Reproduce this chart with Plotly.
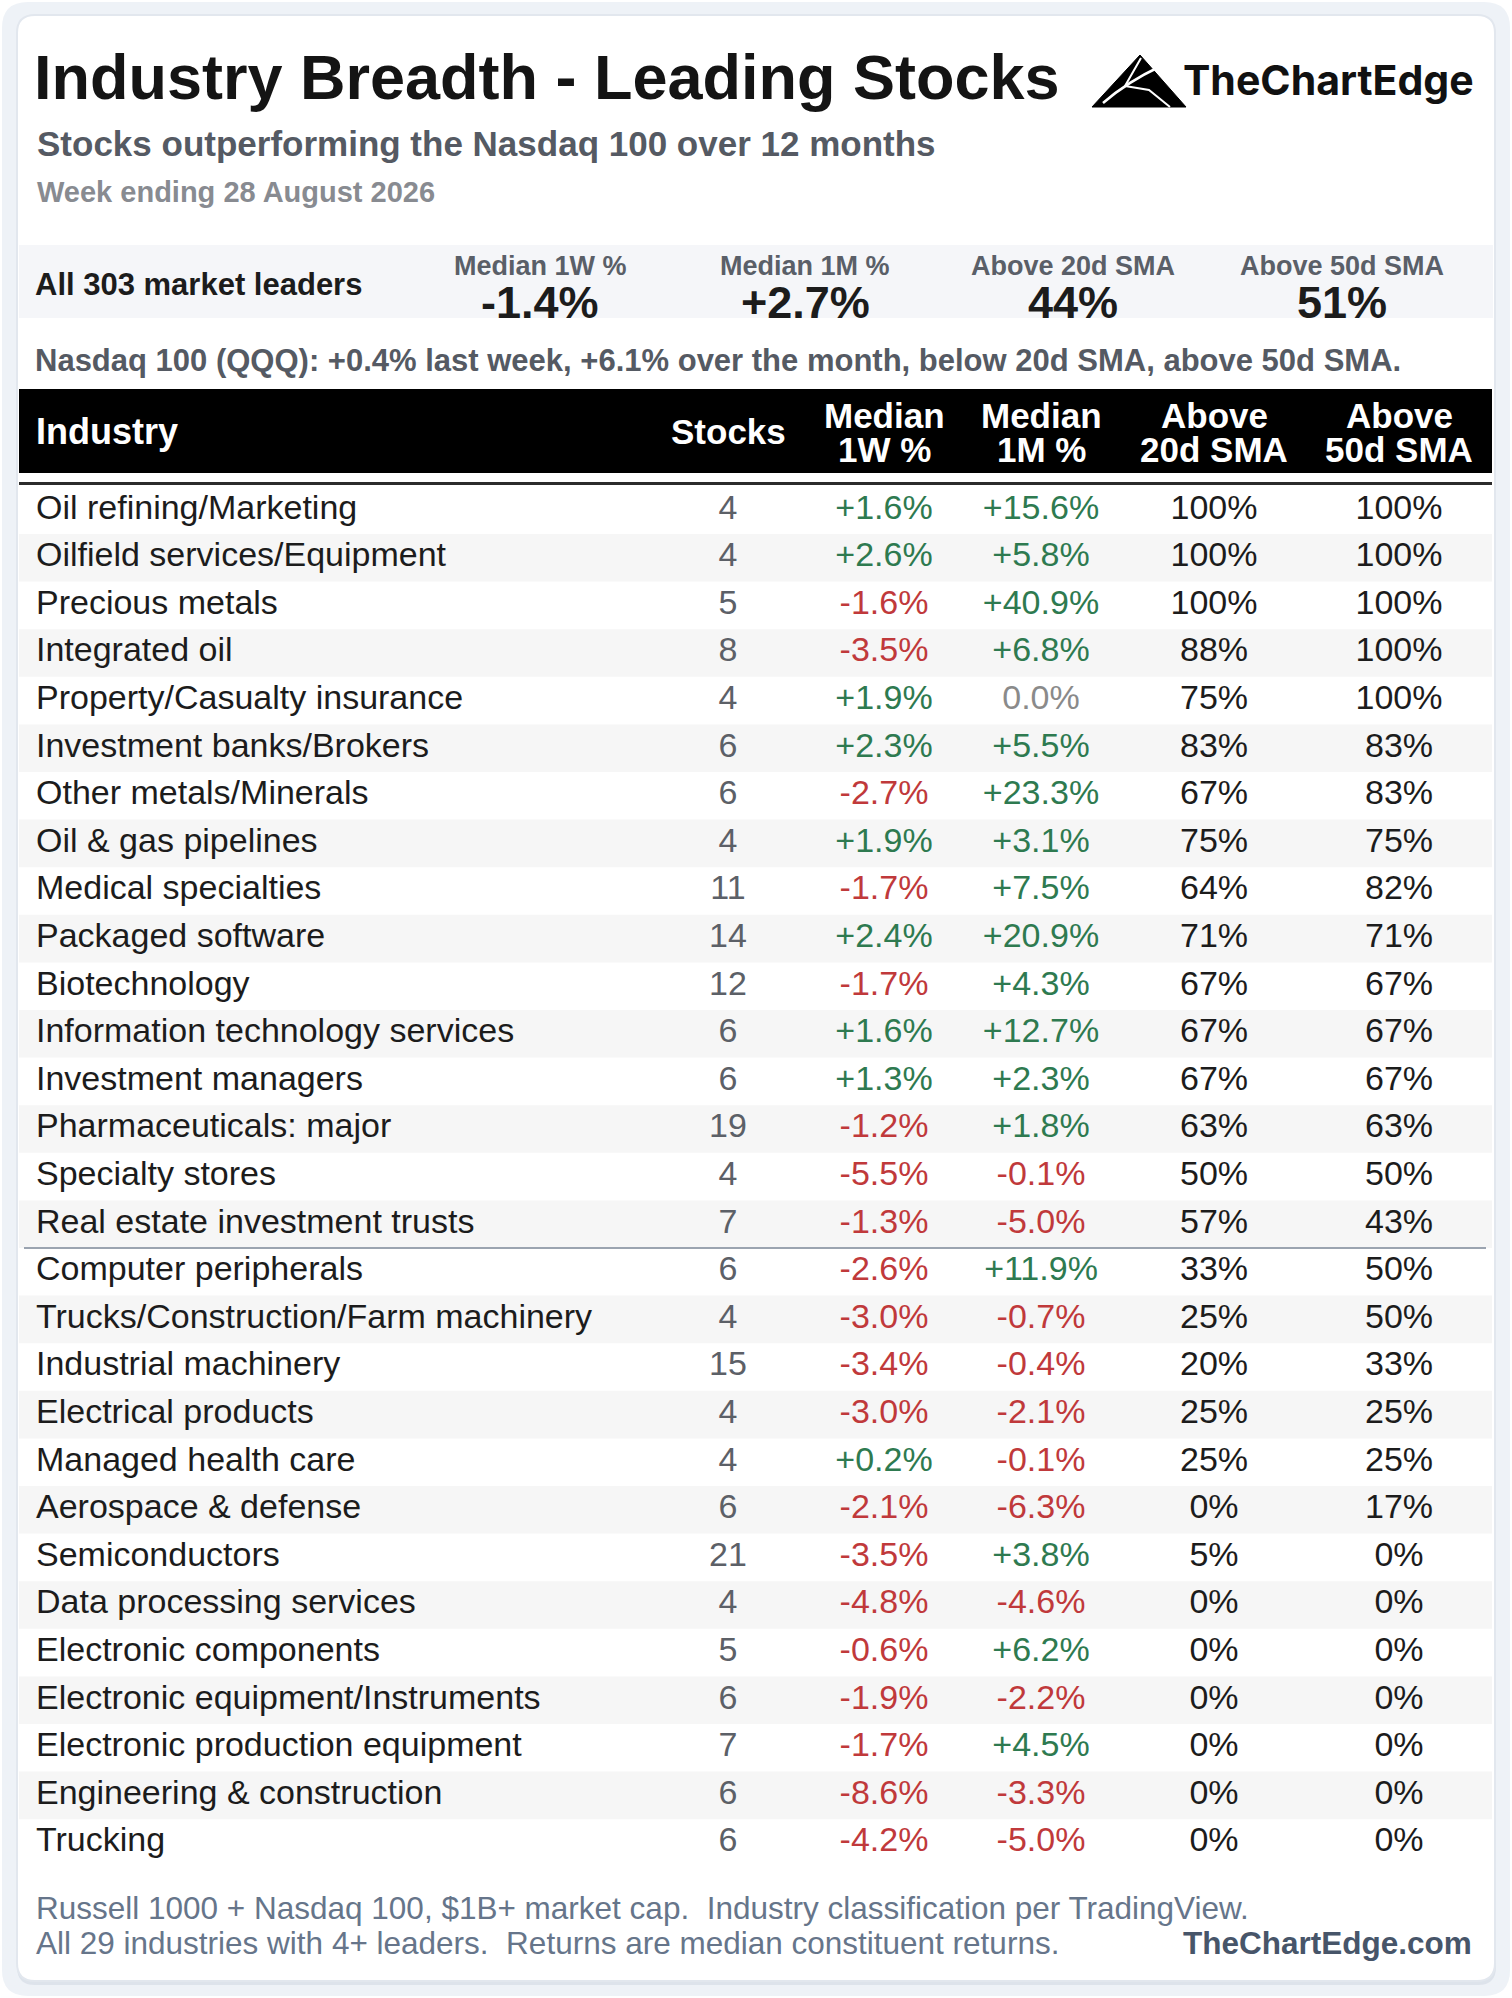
import plotly.graph_objects as go

W, H = 1512, 1998
FONT = "Liberation Sans, Arial, sans-serif"

# ---- data ----
industries = [
    "Oil refining/Marketing", "Oilfield services/Equipment", "Precious metals",
    "Integrated oil", "Property/Casualty insurance", "Investment banks/Brokers",
    "Other metals/Minerals", "Oil & gas pipelines", "Medical specialties",
    "Packaged software", "Biotechnology", "Information technology services",
    "Investment managers", "Pharmaceuticals: major", "Specialty stores",
    "Real estate investment trusts", "Computer peripherals",
    "Trucks/Construction/Farm machinery", "Industrial machinery",
    "Electrical products", "Managed health care", "Aerospace & defense",
    "Semiconductors", "Data processing services", "Electronic components",
    "Electronic equipment/Instruments", "Electronic production equipment",
    "Engineering & construction", "Trucking",
]
stocks = [4, 4, 5, 8, 4, 6, 6, 4, 11, 14, 12, 6, 6, 19, 4, 7, 6, 4, 15, 4, 4, 6, 21, 4, 5, 6, 7, 6, 6]
med_1w = [1.6, 2.6, -1.6, -3.5, 1.9, 2.3, -2.7, 1.9, -1.7, 2.4, -1.7, 1.6, 1.3, -1.2, -5.5,
          -1.3, -2.6, -3.0, -3.4, -3.0, 0.2, -2.1, -3.5, -4.8, -0.6, -1.9, -1.7, -8.6, -4.2]
med_1m = [15.6, 5.8, 40.9, 6.8, 0.0, 5.5, 23.3, 3.1, 7.5, 20.9, 4.3, 12.7, 2.3, 1.8, -0.1,
          -5.0, 11.9, -0.7, -0.4, -2.1, -0.1, -6.3, 3.8, -4.6, 6.2, -2.2, 4.5, -3.3, -5.0]
above_20d = [100, 100, 100, 88, 75, 83, 67, 75, 64, 71, 67, 67, 67, 63, 50, 57, 33, 25, 20,
             25, 25, 0, 5, 0, 0, 0, 0, 0, 0]
above_50d = [100, 100, 100, 100, 100, 83, 83, 75, 82, 71, 67, 67, 67, 63, 50, 43, 50, 50, 33,
             25, 25, 17, 0, 0, 0, 0, 0, 0, 0]

headers = ["Industry", "Stocks", "Median<br>1W %", "Median<br>1M %",
           "Above<br>20d SMA", "Above<br>50d SMA"]

summary_name = "All 303 market leaders"
summary_labels = ["Median 1W %", "Median 1M %", "Above 20d SMA", "Above 50d SMA"]
summary_values = ["-1.4%", "+2.7%", "44%", "51%"]

title = "Industry Breadth - Leading Stocks"
subtitle = "Stocks outperforming the Nasdaq 100 over 12 months"
week = "Week ending 28 August 2026"
qqq_note = "Nasdaq 100 (QQQ): +0.4% last week, +6.1% over the month, below 20d SMA, above 50d SMA."
footer_lines = [
    "Russell 1000 + Nasdaq 100, $1B+ market cap.\u00a0 Industry classification per TradingView.",
    "All 29 industries with 4+ leaders.\u00a0 Returns are median constituent returns.",
]
site = "TheChartEdge.com"

# ---- styling ----
GREEN, RED, ZERO = "#2e7a50", "#c0393b", "#8a8a8a"
INK = "#1c1c1c"
col_x = [36, 728, 884, 1041, 1214, 1399]
sum_x = [540, 805, 1073, 1342]
ROW_TOP, ROW_H = 486.4, 47.6
ROW_FS = 34

n = len(industries)
rows = list(range(n))
# leaders with at least half their stocks above the 20d SMA sit above the divider
split = next(i for i, v in enumerate(above_20d) if v < 50)


def pct(v):
    return "0.0%" if v == 0 else f"{v:+.1f}%"


def pct_col(v):
    return ZERO if v == 0 else (GREEN if v > 0 else RED)


def rrect(x0, y0, x1, y1, r):
    return (f"M{x0+r},{y0} L{x1-r},{y0} Q{x1},{y0} {x1},{y0+r} L{x1},{y1-r} "
            f"Q{x1},{y1} {x1-r},{y1} L{x0+r},{y1} Q{x0},{y1} {x0},{y1-r} "
            f"L{x0},{y0+r} Q{x0},{y0} {x0+r},{y0} Z")


fig = go.Figure()

# striped rows
odd = [i for i in rows if i % 2 == 1]
fig.add_trace(go.Bar(
    y=odd, x=[1473] * len(odd), base=19, orientation="h", width=1,
    marker=dict(color="#f6f6f6", line=dict(width=0)), yaxis="y2", hoverinfo="skip",
))


def text_col(x, vals, colors, pos="middle center"):
    fig.add_trace(go.Scatter(
        x=[x] * n, y=rows, text=vals, mode="text", textposition=pos,
        textfont=dict(family=FONT, size=ROW_FS, color=colors),
        yaxis="y2", cliponaxis=False, hoverinfo="skip",
    ))


text_col(col_x[0], industries, INK, "middle right")
text_col(col_x[1], [str(s) for s in stocks], "#5c6067")
text_col(col_x[2], [pct(v) for v in med_1w], [pct_col(v) for v in med_1w])
text_col(col_x[3], [pct(v) for v in med_1m], [pct_col(v) for v in med_1m])
text_col(col_x[4], [f"{v}%" for v in above_20d], INK)
text_col(col_x[5], [f"{v}%" for v in above_50d], INK)

shapes = [
    dict(type="path", path=rrect(2, 2, 1510, 1996, 26), fillcolor="#eef2f7",
         line=dict(width=0), layer="below"),
    dict(type="path", path=rrect(17, 18, 1496, 1985, 18), fillcolor="#dde3eb",
         line=dict(width=0), layer="below"),
    dict(type="path", path=rrect(17, 15, 1495, 1981, 18), fillcolor="white",
         line=dict(color="#e2e7ee", width=2), layer="below"),
    dict(type="rect", x0=19, x1=1493, y0=245, y1=318, fillcolor="#f5f6f9",
         line=dict(width=0), layer="below"),
    dict(type="rect", x0=19, x1=1492, y0=389, y1=473, fillcolor="black",
         line=dict(width=0), layer="below"),
    dict(type="line", x0=19, x1=1492, y0=483.5, y1=483.5, line=dict(color="#2b2b2b", width=3)),
    dict(type="line", xref="x", yref="y2", x0=24, x1=1486, y0=split - 0.5, y1=split - 0.5,
         line=dict(color="#9ba4b0", width=2)),
    # logo mark
    dict(type="path", path="M1092,107 L1140,55 L1186,107 Z", fillcolor="black",
         line=dict(color="black", width=1)),
    dict(type="path", path="M1103,103 Q1127,82 1161,66", line=dict(color="white", width=2.5)),
    dict(type="path", path="M1141,58 L1125,86 L1149,90 L1170,107",
         line=dict(color="white", width=2)),
]

ann = []


def txt(x, y, s, size, color, bold=False, anchor="left", family=FONT):
    ann.append(dict(x=x, y=y, xref="x", yref="y", text=s, showarrow=False,
                    xanchor=anchor, yanchor="middle",
                    font=dict(family=family, size=size, color=color,
                              weight="bold" if bold else "normal")))


txt(32, 77, title, 63, "#141414", True)
txt(35, 143, subtitle, 35, "#555a63", True)
txt(35, 192, week, 29, "#888b91", True)
txt(1181, 80, "TheChartEdge", 41, "#111111", True, family="Inter, sans-serif")

txt(33, 284, summary_name, 31, INK, True)
for x, lab, val in zip(sum_x, summary_labels, summary_values):
    txt(x, 266, lab, 27, "#5a5f68", True, "center")
    txt(x, 302, val, 45, INK, True, "center")

txt(33, 360, qqq_note, 31, "#555a63", True)

for i, (x, h) in enumerate(zip(col_x, headers)):
    parts = h.split("<br>")
    if len(parts) == 1:
        txt(34 if i == 0 else x, 431, parts[0], 36 if i == 0 else 35, "white", True,
            "left" if i == 0 else "center")
    else:
        txt(x, 415, parts[0], 35, "white", True, "center")
        txt(x, 449, parts[1], 35, "white", True, "center")

txt(34, 1908, footer_lines[0], 31.5, "#66758a")
txt(34, 1943, footer_lines[1], 31.5, "#66758a")
txt(1474, 1943, site, 31.5, "#475569", True, "right")

fig.update_layout(
    width=W, height=H, autosize=False,
    margin=dict(l=0, r=0, t=0, b=0),
    paper_bgcolor="white", plot_bgcolor="rgba(0,0,0,0)",
    showlegend=False, hovermode=False, barmode="overlay",
    xaxis=dict(range=[0, W], visible=False, fixedrange=True, domain=[0, 1]),
    yaxis=dict(range=[H, 0], visible=False, fixedrange=True, domain=[0, 1]),
    yaxis2=dict(range=[n - 0.5, -0.5], visible=False, fixedrange=True, anchor="x",
                domain=[1 - (ROW_TOP + n * ROW_H) / H, 1 - ROW_TOP / H]),
    shapes=shapes, annotations=ann,
)

fig.write_html("out.html", config={"displayModeBar": False},
               post_script="document.body.style.margin='0';")
